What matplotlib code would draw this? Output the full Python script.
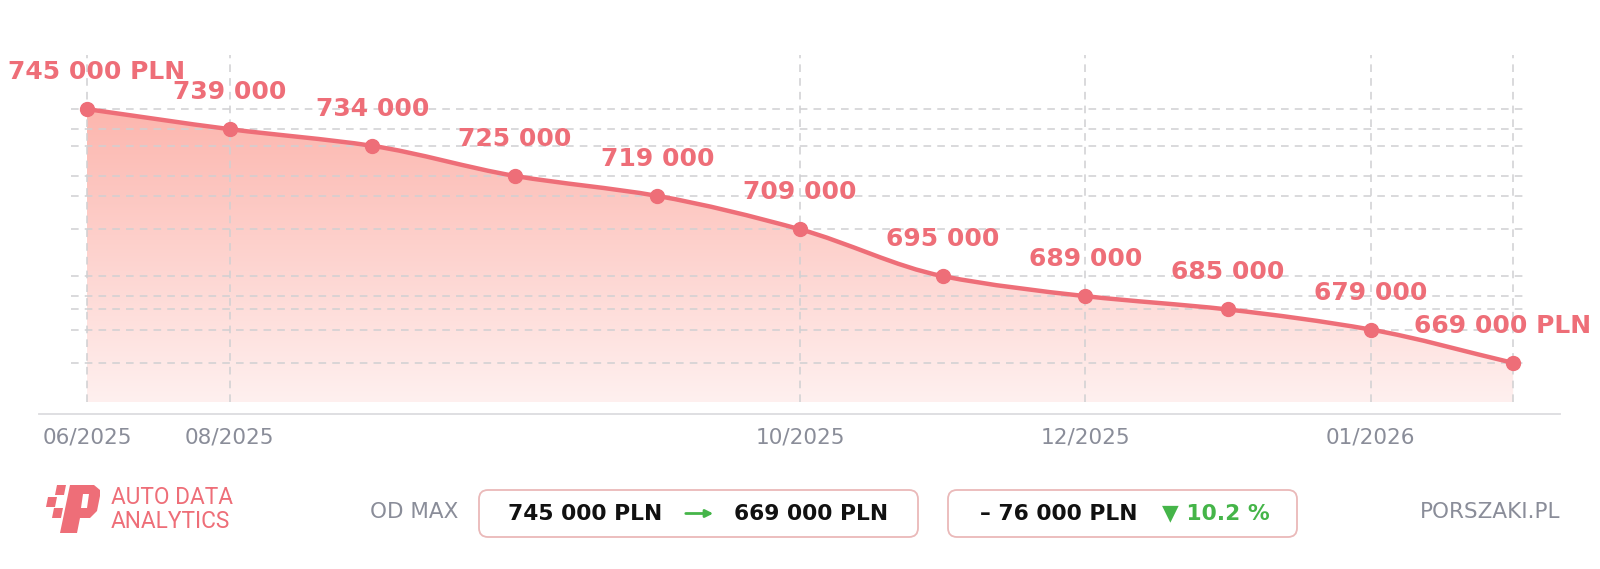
import numpy as np
import matplotlib
matplotlib.use("Agg")
import matplotlib.pyplot as plt
from matplotlib.path import Path
from matplotlib.patches import PathPatch, FancyBboxPatch, Polygon, FancyArrowPatch
from matplotlib.lines import Line2D
from matplotlib.colors import LinearSegmentedColormap
from matplotlib.transforms import IdentityTransform

# data
prices = [745000, 739000, 734000, 725000, 719000, 709000,
          695000, 689000, 685000, 679000, 669000]
tick_idx = [0, 1, 5, 7, 9, 10]
tick_labels = ['06/2025', '08/2025', '10/2025', '12/2025', '01/2026', '']
price_from = 745000
price_to = 669000
drop_pct = 10.2

W, H = 1600, 569
RED = '#ee6e78'
GRAY = '#8a8d99'
GREEN = '#45b549'


def fmt(v):
    return f"{v:,}".replace(',', ' ')


def smooth_path(x, y):
    # monotone cubic through the points, as bezier segments
    x = np.asarray(x, float)
    y = np.asarray(y, float)
    d = np.diff(y) / np.diff(x)
    m = np.zeros_like(y)
    m[0], m[-1] = d[0], d[-1]
    for i in range(1, len(y) - 1):
        if d[i - 1] * d[i] <= 0:
            m[i] = 0
        else:
            m[i] = 2 / (1 / d[i - 1] + 1 / d[i])
    verts = [(x[0], y[0])]
    codes = [Path.MOVETO]
    for i in range(len(x) - 1):
        h = x[i + 1] - x[i]
        verts += [(x[i] + h / 3, y[i] + m[i] * h / 3),
                  (x[i + 1] - h / 3, y[i + 1] - m[i + 1] * h / 3),
                  (x[i + 1], y[i + 1])]
        codes += [Path.CURVE4] * 3
    return verts, codes


fig = plt.figure(figsize=(W / 100, H / 100), dpi=100)
ax = fig.add_axes([71 / W, 1 - 402 / H, (1526 - 71) / W, (402 - 55) / H])

xs = np.arange(len(prices))
ys = np.array(prices) / 1000.0
ylo, yhi = 657.3, 761.2
xlo, xhi = -0.112, 10.09

verts, codes = smooth_path(xs, ys)

# gradient fill under the curve
fill_verts = verts + [(xs[-1], ylo), (xs[0], ylo), (xs[0], ys[0])]
fill_codes = codes + [Path.LINETO, Path.LINETO, Path.CLOSEPOLY]
clip = PathPatch(Path(fill_verts, fill_codes), facecolor='none', edgecolor='none')
ax.add_patch(clip)
cmap = LinearSegmentedColormap.from_list('fill', ['#fff0ef', '#fcb6ae'])
grad = np.linspace(0, 1, 256).reshape(-1, 1)
im = ax.imshow(grad, extent=[xs[0], xs[-1], ylo, ys.max()], origin='lower',
               aspect='auto', cmap=cmap, zorder=1, interpolation='bicubic')
im.set_clip_path(clip)

# line + markers
ax.add_patch(PathPatch(Path(verts, codes), facecolor='none', edgecolor=RED,
                       lw=3.2, zorder=3, capstyle='round', joinstyle='round'))
ax.plot(xs, ys, 'o', color=RED, ms=10, zorder=4)

ax.set_xlim(xlo, xhi)
ax.set_ylim(ylo, yhi)

# grid at the value levels and the month ticks
ax.set_yticks(ys)
ax.set_yticklabels([])
ax.set_xticks(tick_idx)
ax.set_xticklabels(tick_labels, fontsize=15.6, color=GRAY)
ax.tick_params(axis='both', length=0)
ax.tick_params(axis='x', pad=18.5)
ax.grid(True, color='#d0d0d2', lw=1.1, ls=(0, (5, 4)))
ax.set_axisbelow('line')
for s in ax.spines.values():
    s.set_visible(False)

# value labels, kept inside the figure
for i, v in enumerate(prices):
    txt = fmt(v) + (' PLN' if i in (0, len(prices) - 1) else '')
    dx = 0
    if i == 0:
        dx = 9.5
    elif i == len(prices) - 1:
        dx = -10.5
    ax.annotate(txt, (xs[i], ys[i]), xytext=(dx, 37), textcoords='offset pixels',
                ha='center', va='center', fontsize=18, fontweight='bold',
                color=RED, zorder=5)

# baseline
fig.add_artist(Line2D([39 / W, 1560 / W], [1 - 414 / H] * 2, color='#dcdcdf', lw=1.3))

tr = IdentityTransform()


def px(x, y):
    return x, H - y


# logo
for sq in [[(46, 507), (48, 497), (57, 497), (55, 507)],
           [(55, 495), (57, 485), (66, 485), (64, 495)],
           [(52, 518), (54, 508), (63, 508), (61, 518)]]:
    fig.add_artist(Polygon([px(*p) for p in sq], closed=True, transform=tr,
                           facecolor=RED, edgecolor='none'))
p_outer = [(60, 533), (70, 485), (94, 485), (100, 490), (100, 496), (97, 511),
           (90, 518), (80, 518), (77, 533)]
p_hole = [(83, 494), (89, 494), (87, 508), (81, 508)]
fig.add_artist(Polygon([px(*p) for p in p_outer], closed=True, transform=tr,
                       facecolor=RED, edgecolor='none'))
fig.add_artist(Polygon([px(*p) for p in p_hole], closed=True, transform=tr,
                       facecolor='white', edgecolor='none'))
fig.text(111 / W, 1 - 497 / H, 'AUTO DATA', family='Roboto', fontsize=16.3,
         color=RED, ha='left', va='center')
fig.text(111 / W, 1 - 522 / H, 'ANALYTICS', family='Roboto', fontsize=16.3,
         color=RED, ha='left', va='center')

fig.text(414 / W, 1 - 512.5 / H, 'OD MAX', fontsize=15.5, color=GRAY,
         ha='center', va='center')
fig.text(1490 / W, 1 - 512.5 / H, 'PORSZAKI.PL', fontsize=15.5, color=GRAY,
         ha='center', va='center')

# summary boxes
for x0, x1 in [(479, 918), (948, 1297)]:
    fig.add_artist(FancyBboxPatch((x0, H - 537), x1 - x0, 47, transform=tr,
                                  boxstyle='round,pad=0,rounding_size=9',
                                  facecolor='white', edgecolor='#eab9b9', lw=1.3))

ty = 1 - 513.5 / H
fig.text(585 / W, ty, fmt(price_from) + ' PLN', fontsize=15.7, fontweight='bold',
         color='#111111', ha='center', va='center')
fig.add_artist(FancyArrowPatch(px(683, 513.5), px(716, 513.5), transform=tr,
                               arrowstyle='-|>', mutation_scale=11, lw=2,
                               color=GREEN))
fig.text(811.5 / W, ty, fmt(price_to) + ' PLN', fontsize=15.7, fontweight='bold',
         color='#111111', ha='center', va='center')
fig.text(1058.5 / W, ty, '– ' + fmt(price_from - price_to) + ' PLN', fontsize=15.7,
         fontweight='bold', color='#111111', ha='center', va='center')
fig.text(1215.5 / W, ty, f'▼ {drop_pct} %', fontsize=15.7, fontweight='bold',
         color=GREEN, ha='center', va='center')

fig.savefig('out.png', dpi=100, facecolor='white')
